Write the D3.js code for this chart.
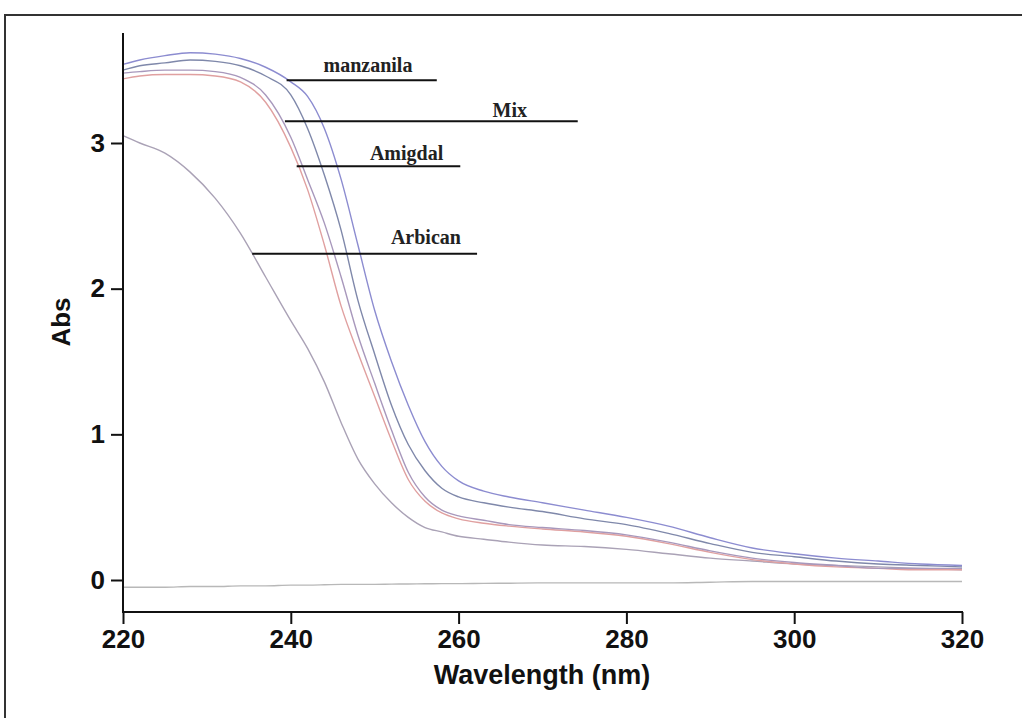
<!DOCTYPE html>
<html><head><meta charset="utf-8">
<script src="https://cdn.jsdelivr.net/npm/d3@7"></script>
<style>body{margin:0;background:#fff}svg{display:block}</style>
</head><body>
<svg id="c" width="1022" height="718"></svg>
<script>
const wavelengths = [220,222,225,228,231,234,237,240,242,244,246,248,250,252,254,256,258,260,263,266,270,275,280,285,290,295,300,305,310,315,320];
const manzanila = [3.54,3.57,3.60,3.62,3.61,3.58,3.52,3.42,3.32,3.10,2.75,2.30,1.85,1.50,1.20,0.95,0.78,0.68,0.61,0.57,0.53,0.48,0.43,0.37,0.29,0.22,0.18,0.15,0.13,0.11,0.10];
const mix = [3.50,3.53,3.55,3.57,3.56,3.53,3.46,3.33,3.10,2.78,2.40,1.92,1.55,1.20,0.93,0.75,0.63,0.57,0.53,0.50,0.47,0.42,0.38,0.32,0.25,0.19,0.16,0.13,0.11,0.10,0.09];
const amigdal1 = [3.48,3.49,3.50,3.50,3.49,3.45,3.33,3.04,2.75,2.45,2.08,1.68,1.35,1.03,0.74,0.57,0.48,0.44,0.41,0.38,0.36,0.34,0.31,0.26,0.20,0.15,0.12,0.10,0.08,0.08,0.08];
const amigdal2 = [3.44,3.46,3.47,3.47,3.46,3.42,3.28,2.97,2.68,2.30,1.88,1.56,1.26,0.96,0.69,0.54,0.46,0.42,0.39,0.37,0.35,0.33,0.30,0.25,0.19,0.14,0.11,0.09,0.08,0.07,0.07];
const arbican = [3.05,3.00,2.93,2.80,2.62,2.38,2.08,1.78,1.59,1.36,1.08,0.83,0.66,0.53,0.43,0.36,0.33,0.30,0.28,0.26,0.24,0.23,0.21,0.18,0.15,0.13,0.11,0.10,0.09,0.08,0.07];
const baseline = [-0.05,-0.05,-0.05,-0.045,-0.045,-0.04,-0.04,-0.035,-0.035,-0.033,-0.03,-0.03,-0.03,-0.028,-0.027,-0.026,-0.025,-0.025,-0.023,-0.022,-0.02,-0.02,-0.02,-0.02,-0.015,-0.01,-0.01,-0.01,-0.01,-0.01,-0.01];
const seriesNames = ["manzanila","Mix","Amigdal a","Amigdal b","Arbican","baseline"];
const seriesColors = ["#8c8cd0","#7f88aa","#a898bc","#e0a0a0","#aaa2b6","#b8b8b8"];
const xTicks = [220,240,260,280,300,320];
const yTicks = [0,1,2,3];
const labelText = ["manzanila","Mix","Amigdal","Arbican"];
const labelX = [249.2,266.1,253.8,256.1];
const labelY = [3.49,3.18,2.88,2.31];
const lineX0 = [239.5,239.3,240.7,235.4];
const lineX1 = [257.4,274.2,260.2,262.2];
const lineY = [3.43,3.15,2.84,2.24];

const allSeries = [manzanila, mix, amigdal1, amigdal2, arbican, baseline];
const svg = d3.select("#c");
const x = d3.scaleLinear().domain([220,320]).range([123,962]);
const y = d3.scaleLinear().domain([0,3]).range([580,143]);

svg.append("rect").attr("x",5).attr("y",15).attr("width",1100).attr("height",800)
  .attr("fill","none").attr("stroke","#333").attr("stroke-width",2);

const line = d3.line().x((d,i)=>x(wavelengths[i])).y(d=>y(d)).curve(d3.curveMonotoneX);
[5,4,3,2,1,0].forEach(k=>{
  svg.append("path").datum(allSeries[k]).attr("d",line)
    .attr("fill","none").attr("stroke",seriesColors[k]).attr("stroke-width",1.4);
});

const axFont = "'Liberation Sans', Arial, sans-serif";
const xAxis = svg.append("g").attr("transform","translate(0,612)")
  .call(d3.axisBottom(x).tickValues(xTicks).tickFormat(d3.format("d")).tickSize(12).tickSizeOuter(0).tickPadding(6));
const yAxis = svg.append("g").attr("transform","translate(123,0)")
  .call(d3.axisLeft(y).tickValues(yTicks).tickFormat(d3.format("d")).tickSize(12).tickSizeOuter(0).tickPadding(6));
[xAxis,yAxis].forEach(g=>{
  g.select(".domain").remove();
  g.selectAll(".tick line").attr("stroke","#111").attr("stroke-width",2);
  g.selectAll(".tick text").attr("fill","#111").style("font-family",axFont)
   .style("font-size","26px").style("font-weight","bold");
});
svg.append("line").attr("x1",123).attr("x2",123).attr("y1",33).attr("y2",612).attr("stroke","#111").attr("stroke-width",2);
svg.append("line").attr("x1",122).attr("x2",963).attr("y1",612).attr("y2",612).attr("stroke","#111").attr("stroke-width",2);

svg.append("text").attr("x",542).attr("y",684).attr("text-anchor","middle")
  .style("font-family",axFont).style("font-size","27px").style("font-weight","bold").attr("fill","#111")
  .text("Wavelength (nm)");
svg.append("text").attr("transform","translate(70,322) rotate(-90)").attr("text-anchor","middle")
  .style("font-family",axFont).style("font-size","26px").style("font-weight","bold").attr("fill","#111")
  .text("Abs");

labelText.forEach((t,i)=>{
  svg.append("line").attr("x1",x(lineX0[i])).attr("x2",x(lineX1[i])).attr("y1",y(lineY[i])).attr("y2",y(lineY[i]))
    .attr("stroke","#111").attr("stroke-width",2);
  svg.append("text").attr("x",x(labelX[i])).attr("y",y(labelY[i])).attr("text-anchor","middle")
    .style("font-family","'Liberation Serif','Times New Roman',serif").style("font-size","20px").style("font-weight","bold")
    .attr("fill","#222").text(t);
});
</script>
</body></html>
